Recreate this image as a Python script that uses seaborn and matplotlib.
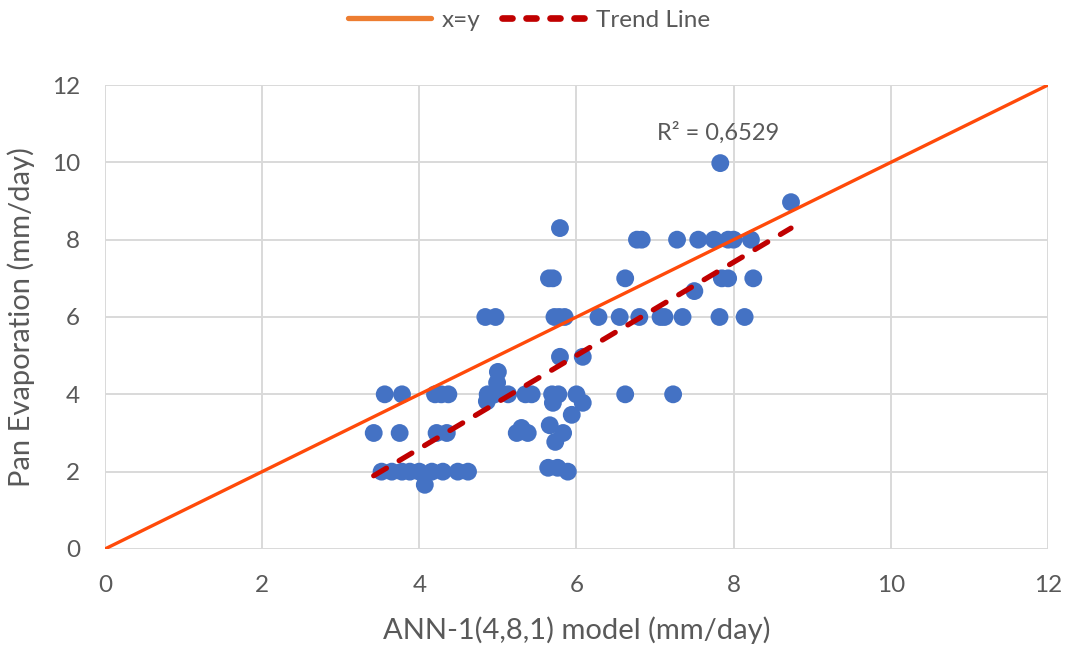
import numpy as np
import matplotlib
matplotlib.use("Agg")
import matplotlib.pyplot as plt
from matplotlib.lines import Line2D
import seaborn as sns

ann_model = [4.07,
             3.52, 3.65, 3.78, 3.88, 4.00, 4.16, 4.30, 4.49, 4.62, 5.89,
             5.64, 5.76,
             5.73,
             3.42, 3.75, 4.22, 4.35, 5.24, 5.38, 5.83,
             5.30, 5.66, 5.94,
             4.86, 5.70, 6.08,
             3.56, 3.78, 4.20, 4.28, 4.37, 4.87, 4.96, 5.13, 5.35, 5.43,
             5.69, 5.77, 6.00, 6.62, 7.23,
             4.99, 5.00,
             5.79, 6.08,
             4.84, 4.97, 5.72, 5.78, 5.85, 6.28, 6.55, 6.80, 7.07, 7.12,
             7.35, 7.82, 8.14,
             7.50,
             5.65, 5.70, 6.62, 7.85, 7.93, 8.25,
             6.77, 6.83, 7.28, 7.55, 7.75, 7.93, 8.00, 8.22,
             5.79, 8.73, 7.83]
pan_evap = [1.66,
            2.0, 2.0, 2.0, 2.0, 2.0, 2.0, 2.0, 2.0, 2.0, 2.0,
            2.1, 2.1,
            2.77,
            3.0, 3.0, 3.0, 3.0, 3.0, 3.0, 3.0,
            3.13, 3.2, 3.47,
            3.82, 3.78, 3.78,
            4.0, 4.0, 4.0, 4.0, 4.0, 4.0, 4.0, 4.0, 4.0, 4.0,
            4.0, 4.0, 4.0, 4.0, 4.0,
            4.3, 4.58,
            4.97, 4.97,
            6.0, 6.0, 6.0, 6.0, 6.0, 6.0, 6.0, 6.0, 6.0, 6.0,
            6.0, 6.0, 6.0,
            6.67,
            7.0, 7.0, 7.0, 7.0, 7.0, 7.0,
            8.0, 8.0, 8.0, 8.0, 8.0, 8.0, 8.0, 8.0,
            8.3, 8.97, 9.98]
identity = [0, 12]
# trend line as drawn in the chart (slope, intercept)
trend_slope = 1.206
trend_intercept = -2.23
r2_label = "R² = 0,6529"
ticks = [0, 2, 4, 6, 8, 10, 12]

# %% style
sns.set_style("white")
plt.rcParams['font.family'] = ['Lato', 'DejaVu Sans']
grey = "#595959"

fig = plt.figure(figsize=(10.71, 6.53), dpi=100)
ax = fig.add_axes([0.098, 0.1593, 0.8805, 0.7105])

# x=y line
sns.lineplot(x=identity, y=identity, ax=ax, color="#FF4A0A", linewidth=2.4,
             zorder=3)

# scatter points
sns.scatterplot(x=ann_model, y=pan_evap, ax=ax, color="#4472C4", s=165,
                edgecolor="none", zorder=2)

# linear trend over the data range
xa = np.array(ann_model)
tx = np.array([xa.min(), xa.max()])
ax.plot(tx, trend_slope * tx + trend_intercept, color="#C00000",
        linewidth=3.8, linestyle=(0, (2.8, 2.8)), dash_capstyle="round",
        zorder=4)

ax.text(7.02, 10.76, r2_label, ha="left", va="center",
        fontsize=17, color=grey)

ax.set_xlim(0, 12)
ax.set_ylim(0, 12)
ax.set_xticks(ticks)
ax.set_yticks(ticks)
ax.tick_params(labelsize=17.5, colors=grey, length=0)
ax.tick_params(axis="y", pad=18)
ax.tick_params(axis="x", pad=19)
ax.grid(True, color="#D9D9D9", linewidth=1.4)
ax.set_axisbelow(True)
for s in ax.spines.values():
    s.set_visible(False)

ax.set_xlabel("ANN-1(4,8,1) model (mm/day)", fontsize=21, color=grey)
ax.set_ylabel("Pan Evaporation (mm/day)", fontsize=21, color=grey)
ax.xaxis.set_label_coords(0.5, -0.146)
ax.yaxis.set_label_coords(-0.074, 0.5)

handles = [Line2D([], [], color="#ED7D31", linewidth=3.8),
           Line2D([], [], color="#C00000", linewidth=4.8,
                  linestyle=(0, (1.5, 2.1)), dash_capstyle="round")]
fig.legend(handles, ["x=y", "Trend Line"], loc="center",
           bbox_to_anchor=(0.494, 0.969), ncol=2, frameon=False, fontsize=17.5,
           labelcolor=grey, handlelength=3.4, handletextpad=0.45,
           columnspacing=0.9)

fig.savefig("out.png", dpi=100)
